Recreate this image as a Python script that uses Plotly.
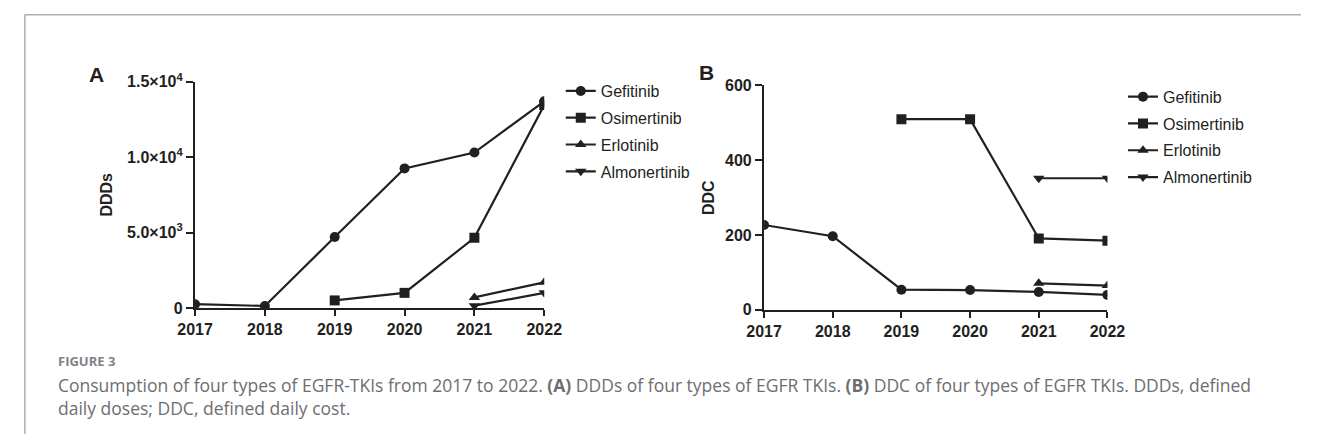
import plotly.graph_objects as go

# ---- data ----
years = [2017, 2018, 2019, 2020, 2021, 2022]
drugs = ["Gefitinib", "Osimertinib", "Erlotinib", "Almonertinib"]
symbols = ["circle", "square", "triangle-up", "triangle-down"]

# Panel A: defined daily doses (DDDs)
ddds_gefitinib = [250, 130, 4700, 9250, 10300, 13700]
ddds_osimertinib = [None, None, 500, 1000, 4650, 13450]
ddds_erlotinib = [None, None, None, None, 700, 1700]
ddds_almonertinib = [None, None, None, None, 150, 1000]

# Panel B: defined daily cost (DDC)
ddc_gefitinib = [227, 197, 54, 53, 48, 40]
ddc_osimertinib = [None, None, 510, 510, 191, 185]
ddc_erlotinib = [None, None, None, None, 71, 65]
ddc_almonertinib = [None, None, None, None, 352, 352]

ddds_ticks = [0, 5000, 10000, 15000]
ddds_ticktext = ["0", "5.0×10<sup>3</sup>", "1.0×10<sup>4</sup>", "1.5×10<sup>4</sup>"]
ddc_ticks = [0, 200, 400, 600]

INK = "#231f20"
ARIAL = "Liberation Sans, Arial"
W, H = 1319, 443

fig = go.Figure()

series_a = [ddds_gefitinib, ddds_osimertinib, ddds_erlotinib, ddds_almonertinib]
series_b = [ddc_gefitinib, ddc_osimertinib, ddc_erlotinib, ddc_almonertinib]

for name, sym, vals in zip(drugs, symbols, series_a):
    fig.add_trace(go.Scatter(
        x=years, y=vals, name=name, mode="lines+markers",
        line=dict(color=INK, width=2.2),
        marker=dict(symbol=sym, size=10, color=INK),
        xaxis="x", yaxis="y", legend="legend", legendgroup="a_" + name,
        connectgaps=False,
    ))

for name, sym, vals in zip(drugs, symbols, series_b):
    fig.add_trace(go.Scatter(
        x=years, y=vals, name=name, mode="lines+markers",
        line=dict(color=INK, width=2.2),
        marker=dict(symbol=sym, size=10, color=INK),
        xaxis="x2", yaxis="y2", legend="legend2", legendgroup="b_" + name,
        connectgaps=False,
    ))

tick_font = dict(family=ARIAL, size=16, color=INK)
title_font = dict(family=ARIAL, size=16, color=INK)

common_x = dict(
    tickmode="array", tickvals=years, ticktext=[f"<b>{y}</b>" for y in years],
    showline=True, linecolor=INK, linewidth=2.2, ticks="outside", ticklen=6,
    tickwidth=2, tickcolor=INK, showgrid=False, zeroline=False,
    tickfont=tick_font, fixedrange=True,
)
common_y = dict(
    showline=True, linecolor=INK, linewidth=2.2, ticks="outside", ticklen=7,
    tickwidth=2, tickcolor=INK, showgrid=False, zeroline=False,
    tickfont=tick_font, fixedrange=True,
)

legend_style = dict(
    xanchor="left", yanchor="top",
    font=dict(family=ARIAL, size=16, color=INK),
    bgcolor="rgba(0,0,0,0)", tracegroupgap=3, itemwidth=30,
)

fig.update_layout(
    width=W, height=H,
    margin=dict(l=0, r=0, t=0, b=0),
    paper_bgcolor="white", plot_bgcolor="white",
    xaxis=dict(common_x, domain=[182 / W, 541 / W], range=[2017, 2022], anchor="y"),
    yaxis=dict(common_y, domain=[(H - 311) / H, (H - 74) / H], range=[0, 15000],
               tickvals=ddds_ticks, ticktext=[f"<b>{t}</b>" for t in ddds_ticktext],
               anchor="x",
               title=dict(text="<b>DDDs</b>", font=title_font, standoff=10)),
    xaxis2=dict(common_x, domain=[767 / W, 1120 / W], range=[2017, 2022], anchor="y2"),
    yaxis2=dict(common_y, domain=[(H - 313) / H, (H - 78) / H], range=[0, 600],
                tickvals=ddc_ticks, ticktext=[f"<b>{t}</b>" for t in ddc_ticks],
                anchor="x2",
                title=dict(text="<b>DDC</b>", font=title_font, standoff=6)),
    legend=dict(legend_style, x=558 / W, y=1 - 66 / H),
    legend2=dict(legend_style, x=1136 / W, y=1 - 72 / H),
    showlegend=True,
)

# panel letters
fig.add_annotation(text="<b>A</b>", x=71 / W, y=1 - 52 / H, xref="paper", yref="paper",
                   showarrow=False, font=dict(family=ARIAL, size=21, color=INK))
fig.add_annotation(text="<b>B</b>", x=708 / W, y=1 - 50 / H, xref="paper", yref="paper",
                   showarrow=False, font=dict(family=ARIAL, size=21, color=INK))

# figure frame (top and left rules)
fig.add_shape(type="line", xref="paper", yref="paper", x0=7 / W, x1=1, y0=1 - 4 / H, y1=1 - 4 / H,
              line=dict(color="#b0b0b0", width=1.5))
fig.add_shape(type="line", xref="paper", yref="paper", x0=7 / W, x1=7 / W, y0=0, y1=1 - 4 / H,
              line=dict(color="#b0b0b0", width=1.5))

# caption
fig.add_annotation(text="<b>FIGURE 3</b>", x=39 / W, y=1 - 367 / H, xref="paper", yref="paper",
                   xanchor="left", yanchor="middle", showarrow=False,
                   font=dict(family="Open Sans", size=13, color="#808285"))
fig.add_annotation(
    text="Consumption of four types of EGFR-TKIs from 2017 to 2022. <b>(A)</b> DDDs of four types of EGFR TKIs. "
         "<b>(B)</b> DDC of four types of EGFR TKIs. DDDs, defined<br>"
         "daily doses; DDC, defined daily cost.",
    x=39 / W, y=1 - 377 / H, xref="paper", yref="paper", xanchor="left", yanchor="top",
    align="left", showarrow=False,
    font=dict(family="Open Sans", size=17.5, color="#6d6e71"))

fig.write_html("out.html")
